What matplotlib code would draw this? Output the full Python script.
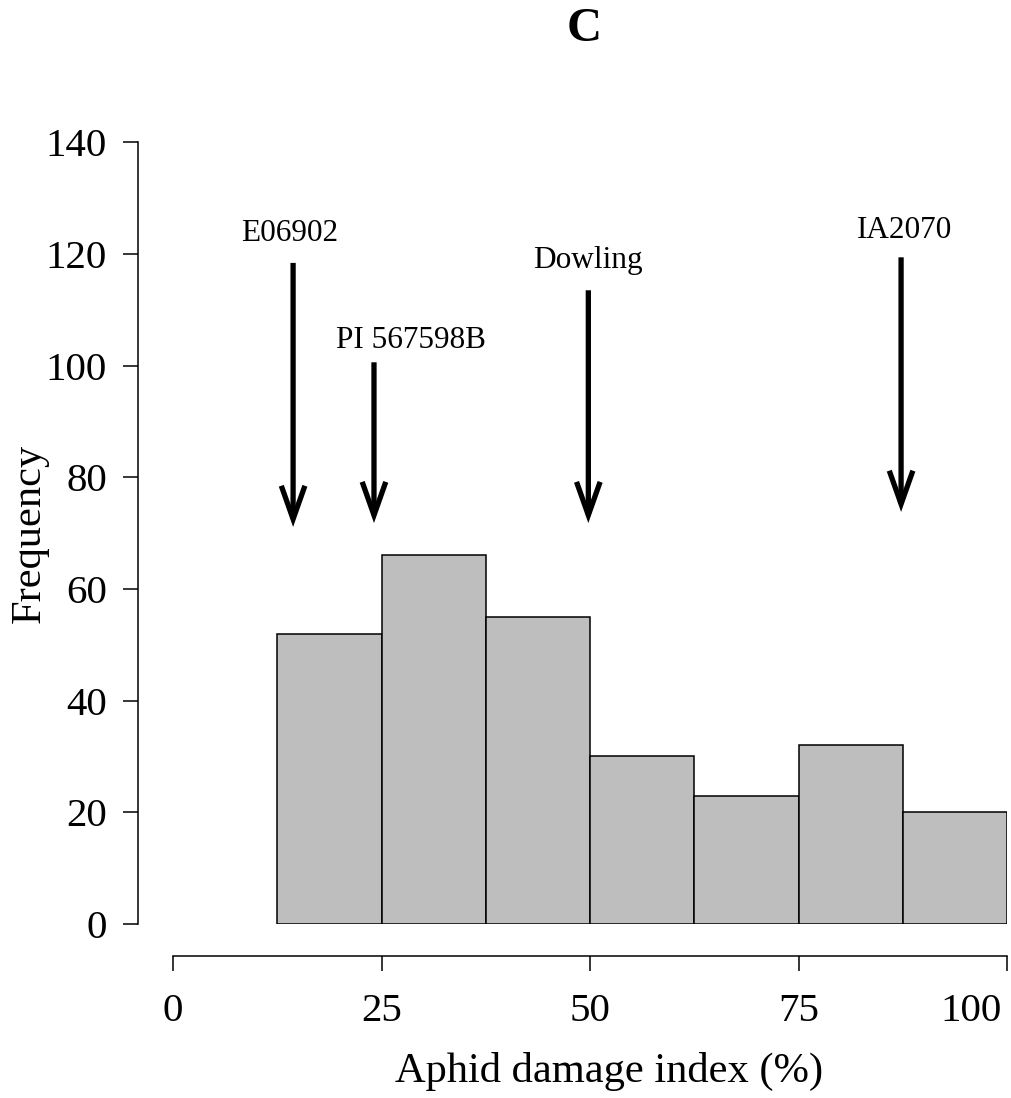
import matplotlib
matplotlib.use("Agg")
import matplotlib.pyplot as plt
import matplotlib.transforms as mtransforms
import numpy as np

plt.rcParams["font.family"] = ["Liberation Serif", "DejaVu Serif"]

# Histogram of aphid damage index
bin_edges = [12.5, 25, 37.5, 50, 62.5, 75, 87.5, 100]
counts = [52, 66, 55, 30, 23, 32, 20]

# Reference genotypes marked with arrows
genotypes = ["E06902", "PI 567598B", "Dowling", "IA2070"]
arrow_x = [14.4, 24.1, 49.8, 87.3]
arrow_top = [118.4, 100.6, 113.5, 119.4]
arrow_tip = [71.1, 71.8, 71.8, 73.8]
label_x = [14.0, 28.5, 49.7, 87.7]
label_y = [122.3, 103.2, 117.5, 122.8]

x_ticks = [0, 25, 50, 75, 100]
y_ticks = [0, 20, 40, 60, 80, 100, 120, 140]

W, H = 1012, 1098
fig = plt.figure(figsize=(W / 100, H / 100), dpi=100)
ax = fig.add_axes([173 / W, 1 - 924 / H, 834 / W, 781.7 / H])

left = np.array(bin_edges[:-1])
widths = np.diff(bin_edges)
ax.bar(left, counts, width=widths, align="edge", color="#BEBEBE",
       edgecolor="black", linewidth=1.1)

for x, y0, y1 in zip(arrow_x, arrow_top, arrow_tip):
    ax.annotate("", xy=(x, y1), xytext=(x, y0),
                arrowprops=dict(arrowstyle="->,head_length=2.4,head_width=0.85",
                                lw=3.8, color="black", shrinkA=0, shrinkB=0,
                                mutation_scale=10, joinstyle="miter",
                                capstyle="butt"))

for name, x, y in zip(genotypes, label_x, label_y):
    ax.text(x, y, name, ha="center", va="baseline", fontsize=22.5)

ax.set_xlim(0, 100)
ax.set_ylim(0, 140)
ax.set_xticks(x_ticks)
ax.set_yticks(y_ticks)
ax.set_xticklabels([str(v) for v in x_ticks])
ax.set_yticklabels([str(v) for v in y_ticks])

for side in ("top", "right"):
    ax.spines[side].set_visible(False)
ax.spines["left"].set_position(("outward", 25))
ax.spines["bottom"].set_position(("outward", 23))
ax.spines["left"].set_bounds(0, 140)
ax.spines["bottom"].set_bounds(0, 100)
for side in ("left", "bottom"):
    ax.spines[side].set_linewidth(1.1)

ax.tick_params(axis="both", direction="out", length=11, width=1.1,
               labelsize=29.5)
ax.tick_params(axis="x", pad=16)
ax.tick_params(axis="y", pad=11.5)

# keep the last x tick label inside the figure
last = ax.get_xticklabels()[-1]
last.set_horizontalalignment("right")
last.set_transform(last.get_transform() +
                   mtransforms.ScaledTranslation(-5 / 100, 0,
                                                 fig.dpi_scale_trans))

fig.text(609 / W, 1 - 1082 / H, "Aphid damage index (%)", ha="center",
         va="baseline", fontsize=30.6)
fig.text(30 / W, 1 - 533 / H, "Frequency", ha="center", va="center",
         rotation=90, fontsize=30.6)
fig.text(584 / W, 1 - 29 / H, "C", ha="center", va="center", fontsize=35,
         fontweight="bold")

fig.savefig("out.png", dpi=100)
